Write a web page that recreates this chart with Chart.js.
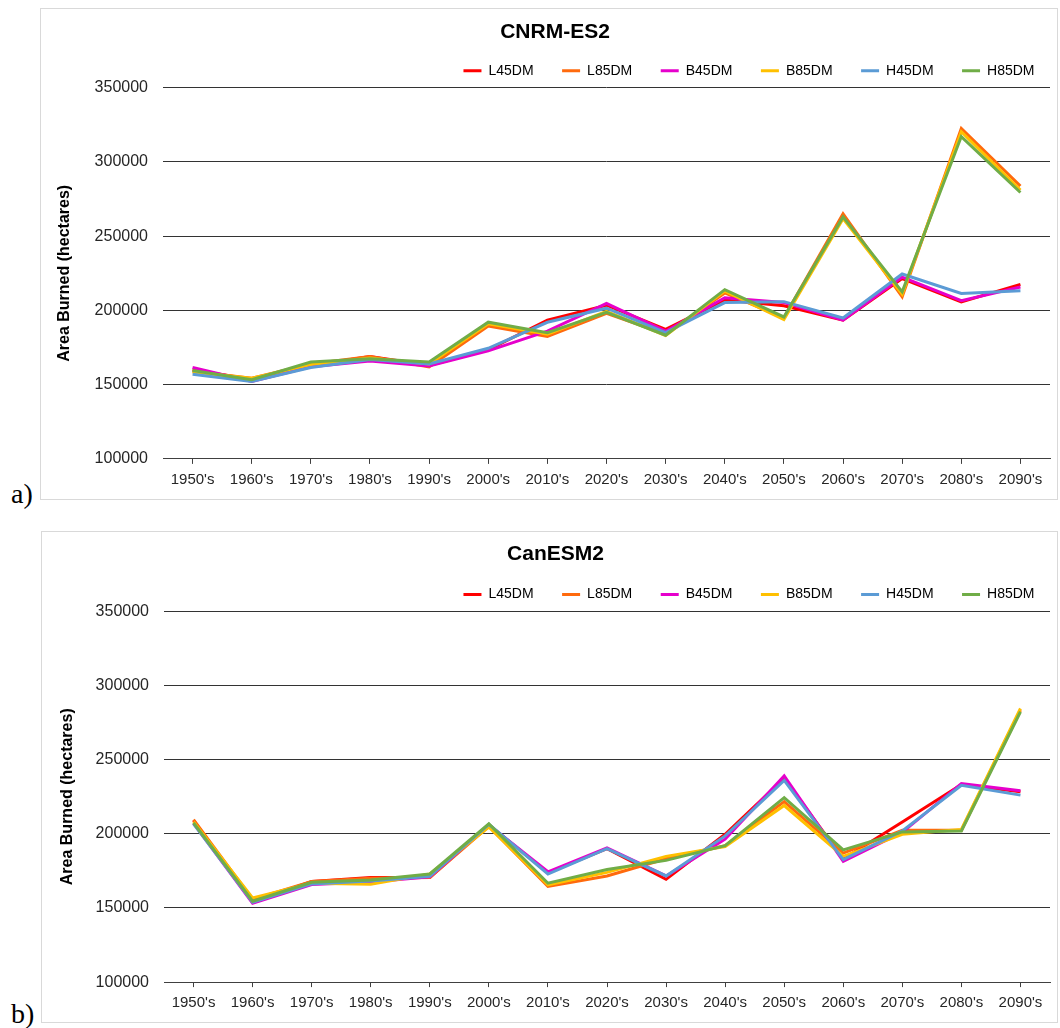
<!DOCTYPE html>
<html>
<head>
<meta charset="utf-8">
<script src="https://cdn.jsdelivr.net/npm/chart.js@4"></script>
<style>
  body { margin: 0; background: #fff; width: 1060px; height: 1028px; position: relative; overflow: hidden; }
  .box { position: absolute; border: 1px solid #d9d9d9; box-sizing: border-box; }
  .box canvas { position: absolute; left: 0; top: 0; }
  .tag { position: absolute; font-family: 'Liberation Serif', serif; font-size: 28px; line-height: 28px; color: #000; }
</style>
</head>
<body>
<div class="box" id="boxA" style="left:40px; top:8px; width:1018px; height:492px;"><canvas id="chartA"></canvas></div>
<div class="tag" style="left:11px; top:480px;">a)</div>
<div class="box" id="boxB" style="left:41px; top:531px; width:1017px; height:492px;"><canvas id="chartB"></canvas></div>
<div class="tag" style="left:11px; top:1000px;">b)</div>
<script>
var decades = ["1950's", "1960's", "1970's", "1980's", "1990's", "2000's", "2010's", "2020's", "2030's", "2040's", "2050's", "2060's", "2070's", "2080's", "2090's"];
var seriesNames = ['L45DM', 'L85DM', 'B45DM', 'B85DM', 'H45DM', 'H85DM'];
var seriesColors = ['#FF0000', '#FF6A0D', '#E600CC', '#FFC000', '#5B9BD5', '#70AD47'];

// a) CNRM-ES2
var cnrmL45 = [160000, 153500, 163000, 169000, 163000, 173500, 193500, 203500, 187300, 207000, 203100, 193500, 221500, 205700, 217500];
var cnrmL85 = [159000, 154400, 164000, 169000, 162000, 189500, 182400, 198000, 184000, 211800, 195000, 265100, 209200, 322600, 283800];
var cnrmB45 = [161500, 152200, 162000, 166000, 162500, 172800, 186000, 204800, 186000, 208500, 205300, 193400, 222400, 206600, 215800];
var cnrmB85 = [158500, 154400, 163500, 168000, 164000, 191000, 184000, 199300, 183000, 213000, 193900, 261800, 211000, 320400, 281000];
var cnrmH45 = [157000, 152200, 161600, 167000, 164000, 174500, 192000, 201500, 185000, 205300, 205900, 194900, 224500, 211400, 213200];
var cnrmH85 = [159500, 153300, 165300, 167500, 165300, 192100, 185000, 198700, 183300, 214000, 195600, 263000, 212500, 317100, 279400];

// b) CanESM2
var canL45 = [209000, 154000, 167800, 170500, 170500, 206000, 173700, 190000, 169300, 199700, 237500, 183000, 208000, 233300, 228300];
var canL85 = [209600, 155700, 167800, 170000, 170500, 205000, 164500, 171600, 183200, 192000, 221700, 187000, 202400, 202400, 283500];
var canB45 = [207000, 153100, 165800, 167500, 171000, 206000, 174400, 190500, 171600, 196400, 239000, 181500, 201000, 233900, 229000];
var canB85 = [208100, 156800, 166700, 166000, 173000, 204600, 165500, 174000, 184800, 191400, 219100, 184800, 199700, 203000, 284500];
var canH45 = [206800, 153800, 166200, 168200, 171400, 206400, 172900, 190000, 171600, 198600, 236000, 182600, 202000, 232700, 226100];
var canH85 = [207400, 154600, 167300, 168900, 172900, 206800, 166700, 175900, 182100, 192000, 224400, 189200, 201300, 201900, 282300];

var yTicks = { min: 100000, max: 350000, step: 50000 };

Chart.defaults.font.family = "'Liberation Sans', Arial, sans-serif";
Chart.defaults.color = '#262626';
Chart.defaults.animation = false;

// nudge the legend row to the right, the way Excel places it
var legendShift = {
    id: 'legendShift',
    afterLayout: function (chart) {
        chart.legend.left += 13;
        chart.legend.right += 13;
    }
};

function makeChart(id, title, series, opt) {
    var box = document.getElementById(id).parentNode;
    var canvas = document.getElementById(id);
    canvas.width = box.offsetWidth;
    canvas.height = box.offsetHeight;

    var datasets = series.map(function (values, i) {
        return {
            label: seriesNames[i],
            data: values,
            borderColor: seriesColors[i],
            backgroundColor: seriesColors[i],
            borderWidth: 3,
            pointRadius: 0,
            tension: 0,
            order: -i // later series drawn on top, like the original
        };
    });

    return new Chart(canvas.getContext('2d'), {
        type: 'line',
        data: { labels: decades, datasets: datasets },
        plugins: [legendShift],
        options: {
            responsive: false,
            layout: { padding: { left: 19, right: 9, top: 0, bottom: opt.padBottom } },
            plugins: {
                title: {
                    display: true,
                    text: title,
                    color: '#000',
                    font: { size: 21, weight: 'bold' },
                    padding: { top: opt.titleTop, bottom: opt.titleBottom }
                },
                legend: {
                    position: 'top',
                    align: 'end',
                    labels: {
                        usePointStyle: true,
                        pointStyle: 'line',
                        pointStyleWidth: 18,
                        padding: 28.5,
                        color: '#000',
                        font: { size: 14 },
                        sort: function (a, b) { return a.datasetIndex - b.datasetIndex; }
                    }
                },
                tooltip: { enabled: false }
            },
            scales: {
                x: {
                    type: 'category',
                    offset: true,
                    grid: { offset: false, drawOnChartArea: false, drawTicks: true, tickLength: 5, color: '#404040' },
                    border: { color: '#404040', width: 1 },
                    ticks: { padding: opt.xPad, font: { size: 15 }, maxRotation: 0, autoSkip: false }
                },
                y: {
                    min: yTicks.min,
                    max: yTicks.max,
                    grid: { color: '#333333', drawTicks: false },
                    border: { display: false },
                    ticks: {
                        stepSize: yTicks.step,
                        padding: 15,
                        font: { size: 16 },
                        callback: function (v) { return String(v); }
                    },
                    title: {
                        display: true,
                        text: 'Area Burned (hectares)',
                        color: '#000',
                        font: { size: 16, weight: 'bold' },
                        padding: { top: opt.axisTitlePad, bottom: 0 }
                    },
                    afterFit: function (scale) { scale.width = opt.axisWidth; }
                }
            }
        }
    });
}

makeChart('chartA', 'CNRM-ES2', [cnrmL45, cnrmL85, cnrmB45, cnrmB85, cnrmH45, cnrmH85],
    { titleTop: 11, titleBottom: -10, padBottom: 4.3, xPad: 7.4, axisWidth: 103, axisTitlePad: -4.9 });
makeChart('chartB', 'CanESM2', [canL45, canL85, canB45, canB85, canH45, canH85],
    { titleTop: 9.7, titleBottom: -8, padBottom: 5.7, xPad: 6.6, axisWidth: 103, axisTitlePad: -3.1 });
</script>
</body>
</html>
